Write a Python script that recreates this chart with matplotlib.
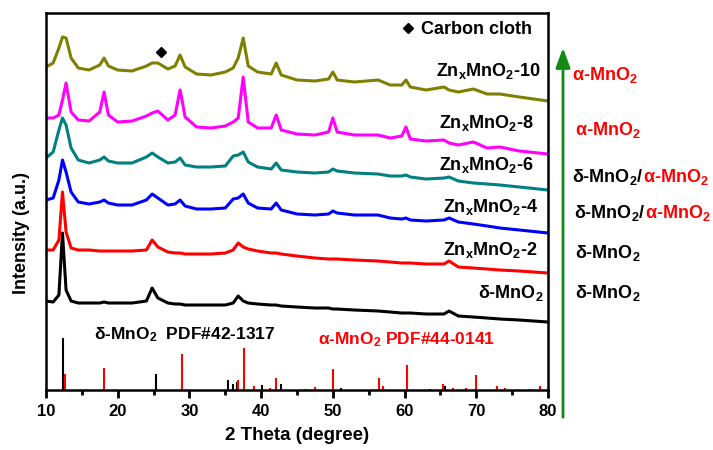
import matplotlib
matplotlib.use("Agg")
import matplotlib.pyplot as plt

# fonts: bold Arial-like everywhere, subscripts too
plt.rcParams["font.family"] = ["Liberation Sans", "DejaVu Sans"]
plt.rcParams["font.weight"] = "bold"
plt.rcParams["mathtext.fontset"] = "custom"
plt.rcParams["mathtext.rm"] = "Liberation Sans:bold"
plt.rcParams["mathtext.it"] = "Liberation Sans:bold"
plt.rcParams["mathtext.bf"] = "Liberation Sans:bold"

# 2 theta grid shared by all patterns (degree)
two_theta = [10, 11, 11.8, 12.3, 12.8, 13.5, 14.5, 16, 17.5, 18.1, 18.7, 20, 22, 24,
             24.8, 25.6, 27, 28.0, 28.7, 29.4, 31, 33, 35, 36.1, 36.8, 37.5, 38.2,
             39.5, 41.4, 42.1, 42.8, 45, 47.5, 49.4, 50.0, 50.6, 53, 56.3, 58, 59.6,
             60.2, 60.8, 63, 65.5, 66.2, 67.5, 69.6, 71.5, 73.3, 76, 80]

# intensities (a.u., already stacked)
delta_mno2 = [89, 88, 95, 157, 100, 89, 87, 87, 87, 88, 87, 87, 87, 89,
              102, 92, 87, 86, 86, 85, 85, 85, 85, 87, 94, 89, 87,
              86, 85, 85, 84, 83, 82, 82, 81, 81, 80, 79, 78, 77,
              77, 77, 76, 76, 79, 74, 73, 72, 71, 70, 68]
znx_2 = [140, 140, 150, 198, 158, 142, 140, 140, 139, 139, 139, 139, 139, 140,
         150, 143, 138, 137, 137, 136, 136, 136, 137, 140, 147, 143, 141,
         139, 137, 137, 136, 134, 132, 131, 131, 131, 130, 129, 128, 127,
         127, 127, 126, 126, 129, 123, 122, 121, 120, 119, 117]
znx_4 = [190, 192, 210, 230, 218, 198, 188, 186, 188, 190, 187, 185, 185, 190,
         196, 192, 185, 186, 190, 184, 181, 181, 182, 191, 192, 196, 187,
         182, 181, 187, 180, 176, 175, 176, 179, 177, 175, 175, 172, 171,
         172, 170, 169, 170, 172, 168, 166, 164, 162, 160, 157]
znx_6 = [232, 238, 260, 272, 265, 242, 230, 227, 230, 233, 229, 227, 227, 233,
         237, 233, 227, 228, 232, 225, 223, 223, 224, 234, 235, 238, 228,
         223, 221, 227, 220, 218, 217, 218, 221, 219, 217, 216, 214, 214,
         215, 213, 211, 212, 213, 209, 207, 206, 205, 203, 200]
znx_8 = [272, 272, 275, 290, 307, 278, 270, 269, 278, 298, 275, 268, 269, 274,
         277, 279, 270, 275, 300, 273, 263, 262, 264, 268, 272, 313, 268,
         262, 262, 275, 260, 256, 255, 258, 272, 258, 255, 255, 252, 254,
         263, 251, 249, 250, 247, 245, 248, 242, 243, 239, 236]
znx_10 = [323, 327, 342, 353, 352, 332, 322, 320, 325, 332, 324, 320, 319, 324,
          327, 327, 321, 324, 335, 323, 316, 315, 318, 322, 332, 352, 324,
          318, 316, 327, 315, 310, 309, 311, 318, 310, 308, 310, 305, 305,
          310, 303, 300, 303, 300, 298, 301, 296, 296, 293, 289]

series = [delta_mno2, znx_2, znx_4, znx_6, znx_8, znx_10]
colors = ["black", "#ff0000", "#0000ff", "#008080", "#ff00ff", "#808000"]

# standard patterns (stick heights)
delta_pdf_pos = [12.4, 25.3, 35.4, 36.1, 36.6, 40.1, 42.7, 51.2, 63.6, 65.6]
delta_pdf_h = [52, 16, 10, 6, 8, 5, 6, 2, 1, 4]
alpha_pdf_pos = [12.7, 18.1, 28.9, 36.8, 37.6, 39.0, 41.2, 42.1, 46.1, 47.5, 50.0,
                 56.5, 57.0, 60.4, 65.3, 66.8, 68.5, 69.9, 72.9, 74.0, 77.5, 78.9]
alpha_pdf_h = [16, 22, 36, 10, 42, 4, 2, 12, 1, 3, 21,
               12, 4, 25, 6, 2, 2, 15, 4, 2, 1, 4]

fig = plt.figure(figsize=(7.13, 4.5), dpi=100)
ax = fig.add_axes([0.0645, 0.1333, 0.7041, 0.8378])

for y, c in zip(series, colors):
    ax.plot(two_theta, y, color=c, linewidth=2.2, solid_joinstyle="round")

ax.vlines(delta_pdf_pos, 0, delta_pdf_h, color="black", linewidth=1.5)
ax.vlines(alpha_pdf_pos, 0, alpha_pdf_h, color="#ff0000", linewidth=1.5)

# carbon cloth marker + legend
ax.plot(26.0, 338, marker="D", color="black", markersize=5)
ax.plot(60.5, 362, marker="D", color="black", markersize=5)
ax.text(62.3, 356, "Carbon cloth", fontsize=13, va="baseline")

# curve labels
lab_fs = 13
ax.text(64.4, 314, r"Zn$_\mathregular{x}$MnO$_\mathregular{2}$-10", fontsize=lab_fs, va="baseline")
ax.text(64.8, 262, r"Zn$_\mathregular{x}$MnO$_\mathregular{2}$-8", fontsize=lab_fs, va="baseline")
ax.text(64.8, 220, r"Zn$_\mathregular{x}$MnO$_\mathregular{2}$-6", fontsize=lab_fs, va="baseline")
ax.text(65.3, 178, r"Zn$_\mathregular{x}$MnO$_\mathregular{2}$-4", fontsize=lab_fs, va="baseline")
ax.text(65.3, 135, r"Zn$_\mathregular{x}$MnO$_\mathregular{2}$-2", fontsize=lab_fs, va="baseline")
ax.text(70.2, 92, r"δ-MnO$_\mathregular{2}$", fontsize=lab_fs, va="baseline")

ax.text(16.7, 51, r"δ-MnO$_\mathregular{2}$  PDF#42-1317", fontsize=12.5, va="baseline")
ax.text(47.9, 46, r"α-MnO$_\mathregular{2}$ PDF#44-0141", fontsize=12.5, va="baseline",
        color="#ff0000")

ax.set_xlim(10, 80)
ax.set_ylim(0, 377)
ax.set_xticks(range(10, 81, 10))
ax.set_xticks(range(15, 80, 10), minor=True)
ax.set_yticks([])
ax.tick_params(axis="x", which="major", direction="out", length=6, width=2,
               labelsize=12, pad=4)
ax.tick_params(axis="x", which="minor", direction="out", length=3.5, width=2)
for lbl in ax.get_xticklabels():
    lbl.set_fontweight("bold")
for s in ax.spines.values():
    s.set_linewidth(1.8)

ax.set_xlabel("2 Theta (degree)", fontsize=13.5, fontweight="bold", labelpad=6)
fig.text(22 / 713, 0.482, "Intensity (a.u.)", fontsize=13, fontweight="bold",
         rotation=90, ha="center", va="center")

# green arrow on the right with phase notes
ax.annotate("", xy=(563 / 713, 405 / 450), xytext=(563 / 713, 30 / 450),
            xycoords="figure fraction", textcoords="figure fraction",
            arrowprops=dict(arrowstyle="-|>,head_length=0.6,head_width=0.22",
                            mutation_scale=20, color="#138a13", lw=2))

red = "#ff0000"
fig.text(572 / 713, 1 - 80 / 450, r"α-MnO$_\mathregular{2}$", color=red, fontsize=13, va="baseline")
fig.text(575 / 713, 1 - 135 / 450, r"α-MnO$_\mathregular{2}$", color=red, fontsize=13, va="baseline")
for x0, yb in [(572, 182), (574, 218)]:
    t = fig.text(x0 / 713, 1 - yb / 450, r"δ-MnO$_\mathregular{2}$/", fontsize=13,
                 va="baseline")
    ax.annotate(r"α-MnO$_\mathregular{2}$", xy=(1, 0), xycoords=t, color=red,
                fontsize=13, va="bottom", ha="left")
fig.text(575 / 713, 1 - 258 / 450, r"δ-MnO$_\mathregular{2}$", fontsize=13, va="baseline")
fig.text(575 / 713, 1 - 298 / 450, r"δ-MnO$_\mathregular{2}$", fontsize=13, va="baseline")

fig.savefig("out.png", dpi=100)
